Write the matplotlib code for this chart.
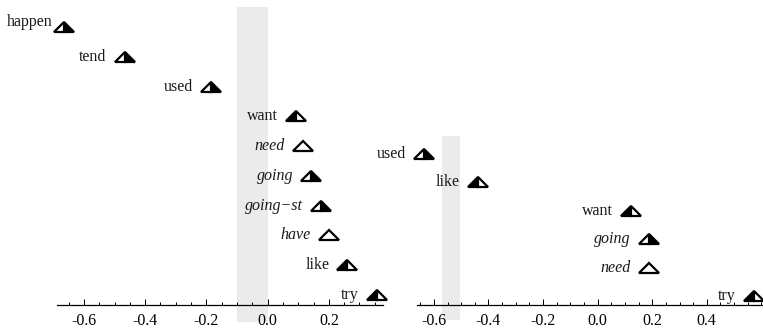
import matplotlib
matplotlib.use("Agg")
import matplotlib.pyplot as plt
from matplotlib.markers import MarkerStyle
from matplotlib.ticker import FixedLocator, MultipleLocator, FormatStrFormatter
from matplotlib.transforms import Affine2D

# left panel, listed top to bottom
left_words = ["happen", "tend", "used", "want", "need", "going", "going\u2212st", "have", "like", "try"]
left_x = [-0.665, -0.467, -0.186, 0.092, 0.115, 0.143, 0.173, 0.201, 0.260, 0.356]
left_half = ["right", "right", "right", "left", "none", "right", "right", "none", "left", "left"]
left_italic = [False, False, False, False, True, True, True, True, False, False]
left_band = (-0.1, 0.0)
left_ticks = [-0.6, -0.4, -0.2, 0.0, 0.2]

# right panel, listed top to bottom
right_words = ["used", "like", "want", "going", "need", "try"]
right_x = [-0.635, -0.439, 0.122, 0.188, 0.188, 0.572]
right_half = ["right", "left", "left", "right", "none", "left"]
right_italic = [False, False, False, True, True, False]
right_band = (-0.57, -0.505)
right_ticks = [-0.6, -0.4, -0.2, 0.0, 0.2, 0.4]

W, H = 763, 333
FONT = "Liberation Serif"
FS = 11.5

plt.rcParams["font.family"] = [FONT, "DejaVu Serif"]
fig = plt.figure(figsize=(W / 100, H / 100), dpi=100)


def _panel(rect_px, xlim, ylim, axis_y, words, xs, halves, italics, band, ticks, label_offsets=None):
    x0, top, x1, bottom = rect_px
    ax = fig.add_axes([x0 / W, (H - bottom) / H, (x1 - x0) / W, (bottom - top) / H])
    ax.set_xlim(*xlim)
    ax.set_ylim(*ylim)
    ax.patch.set_alpha(0)
    for side in ("top", "left", "right"):
        ax.spines[side].set_visible(False)
    ax.spines["bottom"].set_position(("data", axis_y))
    ax.spines["bottom"].set_linewidth(0.9)
    ax.set_yticks([])
    ax.xaxis.set_major_locator(FixedLocator(ticks))
    ax.xaxis.set_minor_locator(MultipleLocator(0.05))
    ax.xaxis.set_major_formatter(FormatStrFormatter("%.1f"))
    ax.tick_params(axis="x", which="both", direction="in", width=0.7, labelsize=FS, pad=6)
    ax.tick_params(axis="x", which="major", length=4)
    ax.tick_params(axis="x", which="minor", length=2)
    for lab in ax.get_xticklabels():
        lab.set_fontfamily(FONT)
    ax.axvspan(band[0], band[1], color="#ebebeb", zorder=0, lw=0)

    n = len(words)
    label_offsets = label_offsets or {}
    for i, (w, x, half, it) in enumerate(zip(words, xs, halves, italics)):
        y = n - i
        fill = "full" if half == "none" else half
        ms = MarkerStyle("^", fillstyle=fill, transform=Affine2D().scale(2.0, 1.0))
        ax.plot([x], [y], linestyle="none", marker=ms, markersize=7.4,
                markerfacecolor="white" if half == "none" else "black",
                markerfacecoloralt="white", markeredgecolor="black",
                markeredgewidth=1.6, clip_on=False, zorder=3)
        dx, dy = label_offsets.get(w, (-18, -4))
        ax.annotate(w, xy=(x, y), xytext=(dx, dy), textcoords="offset pixels",
                    ha="right", va="baseline", fontsize=FS, fontfamily=FONT,
                    fontstyle="italic" if it else "normal", color="#1a1a1a")
    return ax


_panel((57, 7, 383, 322), (-0.688, 0.377), (0.093, 10.67), 0.664,
       left_words, left_x, left_half, left_italic, left_band, left_ticks,
       label_offsets={"happen": (-11, 1)})
_panel((417, 136, 763, 320), (-0.662, 0.606), (0.155, 6.634), 0.683,
       right_words, right_x, right_half, right_italic, right_band, right_ticks)

fig.savefig("out.png", dpi=100)
